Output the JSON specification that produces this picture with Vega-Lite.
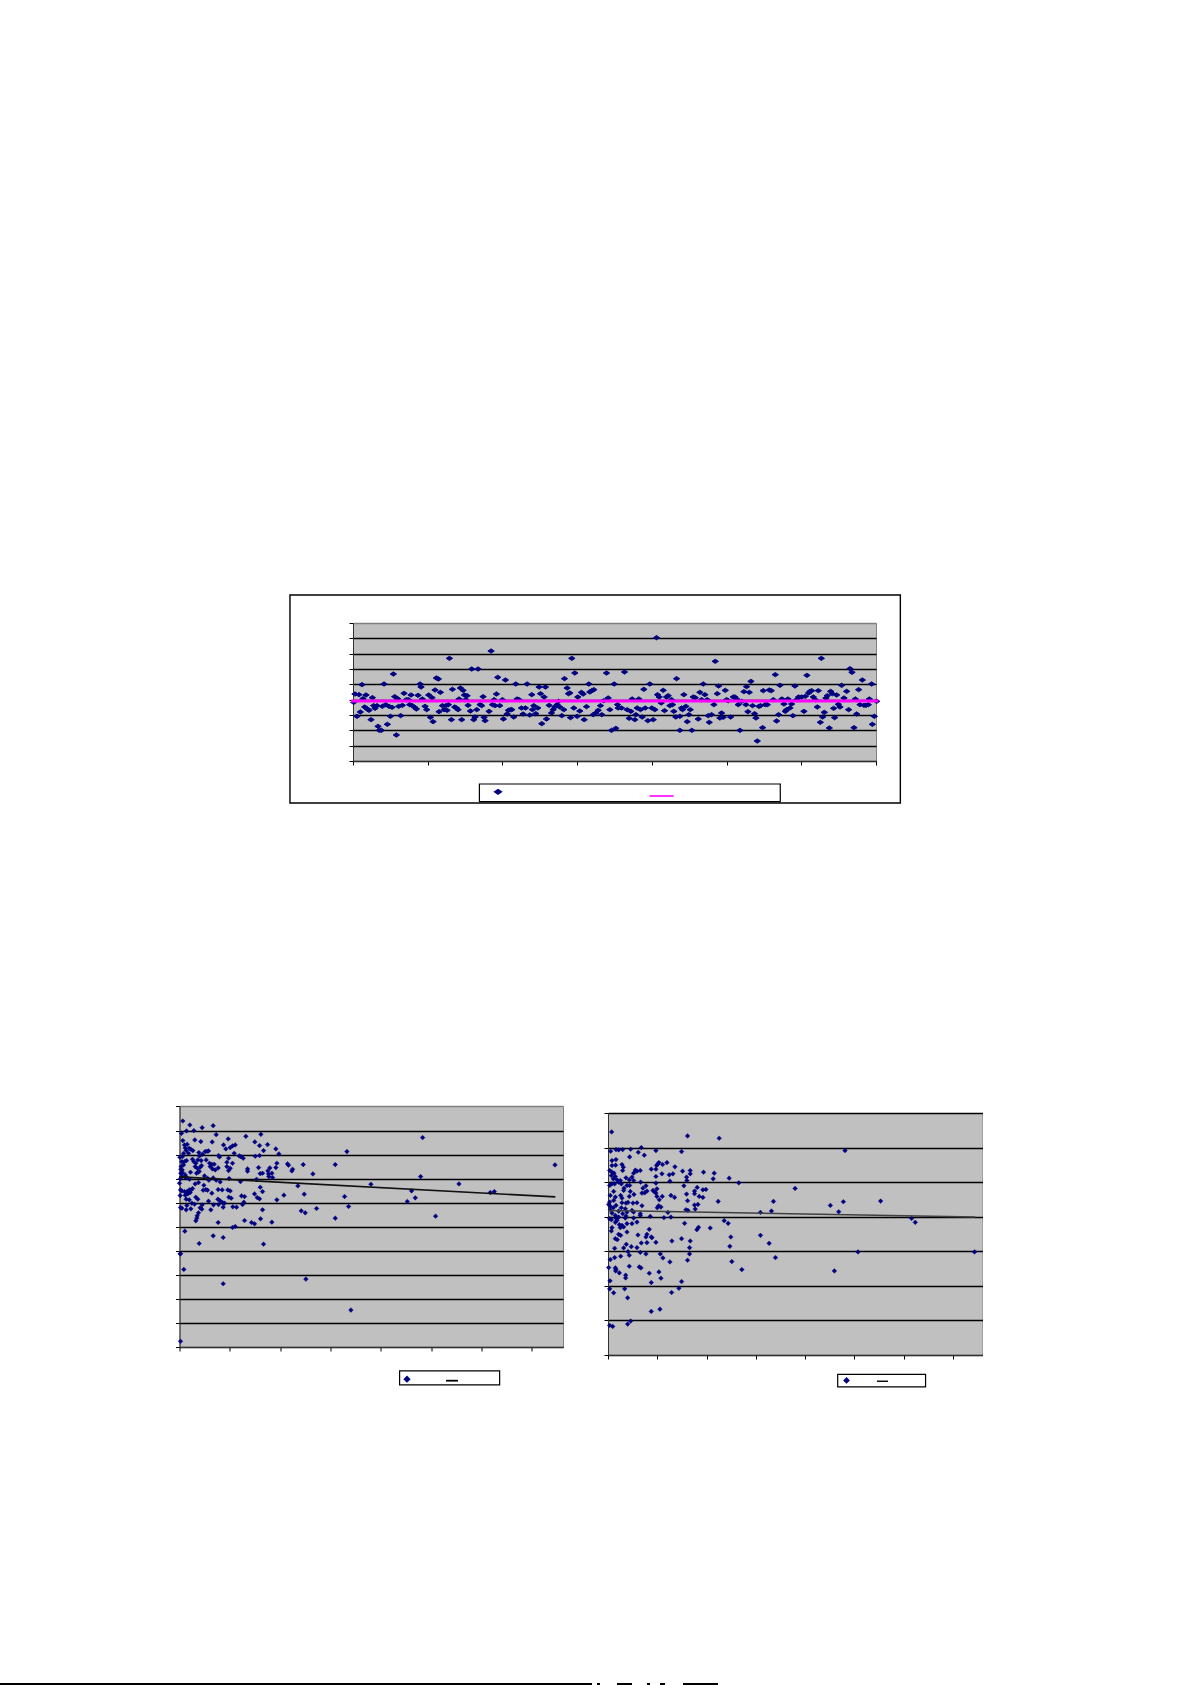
{"$schema":"https://vega.github.io/schema/vega-lite/v6.json","background":"white","padding":{"left":0,"top":593,"right":0,"bottom":0},"config":{"view":{"stroke":null},"axis":{"title":null,"labels":false,"tickColor":"#000000","domainColor":"#303030","tickSize":4,"gridColor":"#000000","gridWidth":1.4,"tickCount":40}},"datasets":{"top":[{"x":2,"y":-8},{"x":6,"y":17},{"x":12,"y":-50},{"x":18,"y":15},{"x":22,"y":-37},{"x":27,"y":45},{"x":30,"y":3},{"x":35,"y":-22},{"x":39,"y":14},{"x":43,"y":-28},{"x":48,"y":-32},{"x":54,"y":-60},{"x":58,"y":6},{"x":62,"y":-18},{"x":66,"y":-26},{"x":72,"y":-18},{"x":75,"y":-80},{"x":79,"y":-92},{"x":85,"y":-92},{"x":88,"y":-20},{"x":93,"y":47},{"x":98,"y":-15},{"x":103,"y":-74},{"x":108,"y":-20},{"x":112,"y":-50},{"x":117,"y":-23},{"x":121,"y":77},{"x":125,"y":9},{"x":130,"y":-106},{"x":134,"y":3},{"x":137,"y":-20},{"x":143,"y":-48},{"x":148,"y":-17},{"x":153,"y":19},{"x":160,"y":0},{"x":166,"y":0},{"x":170,"y":-15},{"x":174,"y":14},{"x":178,"y":-18},{"x":185,"y":-23},{"x":190,"y":-28},{"x":195,"y":13},{"x":201,"y":47},{"x":204,"y":38},{"x":208,"y":2},{"x":216,"y":-20},{"x":221,"y":-30},{"x":227,"y":14},{"x":232,"y":-53},{"x":237,"y":6},{"x":240,"y":-66},{"x":246,"y":29},{"x":250,"y":65},{"x":256,"y":62},{"x":258,"y":-36},{"x":262,"y":22},{"x":268,"y":-18},{"x":273,"y":-30},{"x":278,"y":-18},{"x":282,"y":-32},{"x":286,"y":-15},{"x":289,"y":124},{"x":295,"y":-60},{"x":298,"y":31},{"x":305,"y":-22},{"x":310,"y":-25},{"x":315,"y":-30},{"x":318,"y":2},{"x":322,"y":35},{"x":326,"y":-60},{"x":330,"y":28},{"x":334,"y":14},{"x":338,"y":0},{"x":342,"y":12},{"x":345,"y":-17},{"x":352,"y":-34},{"x":356,"y":92},{"x":362,"y":-60},{"x":366,"y":-52},{"x":371,"y":-30},{"x":375,"y":92},{"x":381,"y":-15},{"x":386,"y":-18},{"x":390,"y":9},{"x":393,"y":-53},{"x":396,"y":-63},{"x":408,"y":-35},{"x":414,"y":146},{"x":418,"y":-15},{"x":423,"y":0},{"x":426,"y":-18},{"x":430,"y":17},{"x":434,"y":67},{"x":440,"y":-18},{"x":448,"y":0},{"x":451,"y":-58},{"x":457,"y":59},{"x":462,"y":-43},{"x":466,"y":-32},{"x":472,"y":-30},{"x":476,"y":-30},{"x":482,"y":-52},{"x":488,"y":47},{"x":492,"y":2},{"x":498,"y":0},{"x":505,"y":-25},{"x":510,"y":-43},{"x":517,"y":-25},{"x":522,"y":47},{"x":530,"y":-46},{"x":536,"y":15},{"x":538,"y":-30},{"x":542,"y":-18},{"x":548,"y":-42},{"x":554,"y":-25},{"x":558,"y":38},{"x":562,"y":18},{"x":566,"y":-72},{"x":573,"y":8},{"x":577,"y":38},{"x":580,"y":-58},{"x":588,"y":-17},{"x":595,"y":-40},{"x":600,"y":-30},{"x":605,"y":-22},{"x":612,"y":-15},{"x":616,"y":-5},{"x":620,"y":-22},{"x":626,"y":-48},{"x":632,"y":-30},{"x":634,"y":63},{"x":642,"y":35},{"x":646,"y":18},{"x":650,"y":20},{"x":652,"y":-54},{"x":656,"y":124},{"x":662,"y":-25},{"x":665,"y":80},{"x":672,"y":-50},{"x":674,"y":8},{"x":680,"y":-34},{"x":685,"y":22},{"x":690,"y":17},{"x":693,"y":-60},{"x":700,"y":-21},{"x":707,"y":47},{"x":710,"y":23},{"x":716,"y":27},{"x":722,"y":30},{"x":720,"y":-45},{"x":728,"y":-40},{"x":735,"y":-32},{"x":742,"y":-18},{"x":746,"y":-45},{"x":752,"y":-3},{"x":760,"y":80},{"x":765,"y":5},{"x":770,"y":-30},{"x":775,"y":-92},{"x":783,"y":47},{"x":788,"y":-86},{"x":793,"y":-15},{"x":795,"y":-25},{"x":805,"y":-25},{"x":814,"y":83},{"x":822,"y":-30},{"x":828,"y":-56},{"x":833,"y":-35},{"x":837,"y":2},{"x":845,"y":-60},{"x":848,"y":-45},{"x":852,"y":-25},{"x":857,"y":2},{"x":862,"y":-30},{"x":867,"y":-52},{"x":872,"y":31},{"x":876,"y":-25},{"x":884,"y":-63},{"x":890,"y":47},{"x":896,"y":-25},{"x":900,"y":-60},{"x":905,"y":-30},{"x":910,"y":186},{"x":913,"y":15},{"x":918,"y":8},{"x":924,"y":-10},{"x":930,"y":28},{"x":934,"y":-33},{"x":940,"y":8},{"x":945,"y":12},{"x":950,"y":-18},{"x":955,"y":0},{"x":958,"y":-15},{"x":962,"y":-35},{"x":968,"y":-52},{"x":970,"y":63},{"x":980,"y":-92},{"x":980,"y":-50},{"x":985,"y":-25},{"x":988,"y":-30},{"x":992,"y":15},{"x":998,"y":-20},{"x":1002,"y":-66},{"x":1007,"y":-45},{"x":1011,"y":-30},{"x":1016,"y":-92},{"x":1020,"y":8},{"x":1026,"y":6},{"x":1035,"y":-58},{"x":1040,"y":22},{"x":1045,"y":0},{"x":1050,"y":47},{"x":1055,"y":15},{"x":1062,"y":0},{"x":1065,"y":-48},{"x":1068,"y":-68},{"x":1075,"y":-45},{"x":1082,"y":-15},{"x":1086,"y":115},{"x":1092,"y":18},{"x":1096,"y":41},{"x":1100,"y":-55},{"x":1105,"y":-40},{"x":1110,"y":-53},{"x":1116,"y":28},{"x":1120,"y":0},{"x":1125,"y":-3},{"x":1132,"y":-52},{"x":1140,"y":8},{"x":1145,"y":8},{"x":1150,"y":2},{"x":1155,"y":-15},{"x":1160,"y":-92},{"x":1165,"y":-5},{"x":1172,"y":24},{"x":1178,"y":-15},{"x":1180,"y":39},{"x":1184,"y":-36},{"x":1188,"y":22},{"x":1193,"y":55},{"x":1198,"y":-18},{"x":1204,"y":-42},{"x":1208,"y":-55},{"x":1212,"y":-124},{"x":1217,"y":-20},{"x":1222,"y":-18},{"x":1228,"y":-84},{"x":1230,"y":27},{"x":1236,"y":-15},{"x":1242,"y":-15},{"x":1248,"y":29},{"x":1254,"y":27},{"x":1260,"y":0},{"x":1266,"y":75},{"x":1270,"y":-64},{"x":1276,"y":-45},{"x":1280,"y":43},{"x":1286,"y":2},{"x":1292,"y":-13},{"x":1296,"y":-35},{"x":1300,"y":-30},{"x":1304,"y":2},{"x":1310,"y":-25},{"x":1315,"y":-13},{"x":1319,"y":-48},{"x":1325,"y":41},{"x":1330,"y":0},{"x":1336,"y":8},{"x":1345,"y":8},{"x":1352,"y":-35},{"x":1356,"y":10},{"x":1361,"y":73},{"x":1366,"y":20},{"x":1370,"y":25},{"x":1375,"y":27},{"x":1380,"y":8},{"x":1386,"y":0},{"x":1392,"y":-22},{"x":1395,"y":27},{"x":1401,"y":-68},{"x":1404,"y":124},{"x":1408,"y":-52},{"x":1413,"y":-38},{"x":1418,"y":5},{"x":1422,"y":12},{"x":1428,"y":-85},{"x":1432,"y":25},{"x":1437,"y":18},{"x":1441,"y":-26},{"x":1444,"y":-54},{"x":1450,"y":14},{"x":1455,"y":-14},{"x":1460,"y":-22},{"x":1465,"y":43},{"x":1472,"y":5},{"x":1480,"y":25},{"x":1486,"y":-30},{"x":1490,"y":93},{"x":1496,"y":82},{"x":1502,"y":-84},{"x":1506,"y":2},{"x":1510,"y":-43},{"x":1516,"y":30},{"x":1520,"y":-15},{"x":1527,"y":59},{"x":1532,"y":-17},{"x":1538,"y":-17},{"x":1545,"y":-15},{"x":1548,"y":2},{"x":1555,"y":47},{"x":1557,"y":-74},{"x":1563,"y":-50},{"x":1570,"y":-5}],"left":[{"x":10,"y":175},{"x":31,"y":163},{"x":68,"y":155},{"x":101,"y":161},{"x":6,"y":138},{"x":21,"y":145},{"x":43,"y":146},{"x":110,"y":134},{"x":199,"y":129},{"x":244,"y":135},{"x":10,"y":116},{"x":46,"y":118},{"x":64,"y":113},{"x":98,"y":112},{"x":146,"y":121},{"x":226,"y":112},{"x":132,"y":103},{"x":240,"y":101},{"x":264,"y":104},{"x":15,"y":103},{"x":23,"y":105},{"x":29,"y":93},{"x":17,"y":94},{"x":34,"y":90},{"x":40,"y":86},{"x":20,"y":86},{"x":139,"y":91},{"x":152,"y":95},{"x":159,"y":100},{"x":167,"y":103},{"x":252,"y":86},{"x":289,"y":91},{"x":58,"y":80},{"x":69,"y":75},{"x":77,"y":83},{"x":83,"y":84},{"x":87,"y":85},{"x":164,"y":78},{"x":298,"y":76},{"x":1,"y":66},{"x":12,"y":77},{"x":9,"y":68},{"x":27,"y":78},{"x":60,"y":70},{"x":117,"y":71},{"x":120,"y":67},{"x":179,"y":70},{"x":184,"y":68},{"x":191,"y":63},{"x":227,"y":69},{"x":240,"y":71},{"x":80,"y":58},{"x":147,"y":63},{"x":7,"y":53},{"x":15,"y":53},{"x":21,"y":56},{"x":39,"y":60},{"x":43,"y":53},{"x":49,"y":48},{"x":55,"y":58},{"x":65,"y":56},{"x":66,"y":41},{"x":90,"y":48},{"x":97,"y":45},{"x":104,"y":45},{"x":142,"y":51},{"x":159,"y":48},{"x":292,"y":48},{"x":324,"y":46},{"x":371,"y":44},{"x":5,"y":38},{"x":12,"y":43},{"x":4,"y":30},{"x":8,"y":28},{"x":47,"y":38},{"x":53,"y":33},{"x":62,"y":36},{"x":59,"y":24},{"x":92,"y":38},{"x":99,"y":31},{"x":107,"y":28},{"x":116,"y":34},{"x":142,"y":38},{"x":152,"y":33},{"x":147,"y":26},{"x":237,"y":35},{"x":271,"y":34},{"x":289,"y":35},{"x":327,"y":42},{"x":339,"y":30},{"x":337,"y":25},{"x":204,"y":31},{"x":204,"y":24},{"x":4,"y":18},{"x":9,"y":20},{"x":17,"y":13},{"x":33,"y":21},{"x":51,"y":18},{"x":56,"y":21},{"x":75,"y":10},{"x":84,"y":3},{"x":88,"y":-3},{"x":101,"y":4},{"x":110,"y":-3},{"x":122,"y":-8},{"x":149,"y":2},{"x":183,"y":-7},{"x":231,"y":0},{"x":242,"y":17},{"x":249,"y":18},{"x":265,"y":25},{"x":267,"y":16},{"x":277,"y":18},{"x":279,"y":5},{"x":268,"y":8},{"x":400,"y":16},{"x":2,"y":1},{"x":7,"y":8},{"x":17,"y":6},{"x":23,"y":4},{"x":30,"y":0},{"x":0,"y":-12},{"x":47,"y":-14},{"x":57,"y":-10},{"x":73,"y":-18},{"x":71,"y":-33},{"x":79,"y":-31},{"x":84,"y":-33},{"x":116,"y":-31},{"x":128,"y":-32},{"x":145,"y":-32},{"x":152,"y":-35},{"x":242,"y":-24},{"x":355,"y":-20},{"x":249,"y":-37},{"x":3,"y":-32},{"x":7,"y":-35},{"x":15,"y":-37},{"x":23,"y":-37},{"x":29,"y":-32},{"x":35,"y":-32},{"x":39,"y":-28},{"x":2,"y":-49},{"x":17,"y":-48},{"x":25,"y":-44},{"x":32,"y":-40},{"x":97,"y":-42},{"x":148,"y":-54},{"x":155,"y":-57},{"x":186,"y":-50},{"x":195,"y":-52},{"x":225,"y":-44},{"x":233,"y":-55},{"x":240,"y":-59},{"x":313,"y":-48},{"x":374,"y":-45},{"x":292,"y":-62},{"x":20,"y":-60},{"x":29,"y":-62},{"x":49,"y":-54},{"x":55,"y":-60},{"x":87,"y":-66},{"x":115,"y":-60},{"x":121,"y":-64},{"x":129,"y":-70},{"x":135,"y":-72},{"x":102,"y":-77},{"x":117,"y":-76},{"x":131,"y":-84},{"x":160,"y":-83},{"x":171,"y":-84},{"x":189,"y":-76},{"x":193,"y":-69},{"x":249,"y":-92},{"x":411,"y":-88},{"x":22,"y":-79},{"x":37,"y":-72},{"x":45,"y":-75},{"x":3,"y":-85},{"x":7,"y":-87},{"x":20,"y":-92},{"x":34,"y":-89},{"x":62,"y":-86},{"x":68,"y":-77},{"x":67,"y":-90},{"x":94,"y":-92},{"x":365,"y":-95},{"x":377,"y":-101},{"x":57,"y":-101},{"x":53,"y":-110},{"x":52,"y":-117},{"x":49,"y":-125},{"x":116,"y":-130},{"x":195,"y":-124},{"x":216,"y":-130},{"x":225,"y":-134},{"x":243,"y":-119},{"x":277,"y":-129},{"x":167,"y":-142},{"x":159,"y":-145},{"x":16,"y":-156},{"x":101,"y":-170},{"x":131,"y":-175},{"x":59,"y":-193},{"x":252,"y":-195},{"x":3,"y":-224},{"x":502,"y":83},{"x":467,"y":44},{"x":729,"y":125},{"x":1126,"y":43},{"x":723,"y":8},{"x":574,"y":-15},{"x":838,"y":-14},{"x":696,"y":-35},{"x":932,"y":-40},{"x":944,"y":-37},{"x":495,"y":-52},{"x":707,"y":-56},{"x":683,"y":-67},{"x":507,"y":-82},{"x":467,"y":-117},{"x":768,"y":-111},{"x":514,"y":-393},{"x":2,"y":-224},{"x":13,"y":-271},{"x":131,"y":-314},{"x":379,"y":-300},{"x":3,"y":-487}],"right":[{"x":11,"y":255},{"x":239,"y":243},{"x":334,"y":236},{"x":100,"y":208},{"x":8,"y":197},{"x":24,"y":202},{"x":32,"y":201},{"x":44,"y":202},{"x":68,"y":203},{"x":91,"y":194},{"x":144,"y":199},{"x":221,"y":196},{"x":109,"y":185},{"x":65,"y":180},{"x":153,"y":163},{"x":177,"y":163},{"x":149,"y":158},{"x":146,"y":154},{"x":12,"y":169},{"x":24,"y":172},{"x":164,"y":157},{"x":201,"y":150},{"x":42,"y":157},{"x":46,"y":149},{"x":12,"y":154},{"x":23,"y":155},{"x":130,"y":143},{"x":144,"y":143},{"x":97,"y":139},{"x":87,"y":137},{"x":82,"y":140},{"x":77,"y":131},{"x":5,"y":139},{"x":12,"y":134},{"x":18,"y":131},{"x":44,"y":139},{"x":224,"y":137},{"x":247,"y":139},{"x":247,"y":129},{"x":287,"y":134},{"x":319,"y":131},{"x":162,"y":129},{"x":184,"y":126},{"x":195,"y":129},{"x":144,"y":121},{"x":22,"y":121},{"x":72,"y":119},{"x":10,"y":124},{"x":16,"y":114},{"x":236,"y":119},{"x":237,"y":109},{"x":316,"y":114},{"x":364,"y":116},{"x":186,"y":107},{"x":393,"y":102},{"x":27,"y":111},{"x":37,"y":109},{"x":54,"y":117},{"x":64,"y":111},{"x":77,"y":109},{"x":98,"y":104},{"x":144,"y":101},{"x":228,"y":93},{"x":268,"y":88},{"x":285,"y":81},{"x":294,"y":82},{"x":5,"y":94},{"x":12,"y":99},{"x":20,"y":99},{"x":32,"y":104},{"x":40,"y":99},{"x":114,"y":93},{"x":105,"y":86},{"x":147,"y":84},{"x":135,"y":79},{"x":140,"y":75},{"x":48,"y":86},{"x":57,"y":94},{"x":65,"y":94},{"x":17,"y":76},{"x":47,"y":79},{"x":67,"y":76},{"x":78,"y":67},{"x":102,"y":71},{"x":110,"y":72},{"x":117,"y":77},{"x":144,"y":71},{"x":260,"y":77},{"x":260,"y":69},{"x":236,"y":68},{"x":189,"y":64},{"x":200,"y":58},{"x":274,"y":61},{"x":285,"y":58},{"x":7,"y":64},{"x":22,"y":59},{"x":38,"y":64},{"x":42,"y":56},{"x":64,"y":61},{"x":147,"y":61},{"x":154,"y":51},{"x":163,"y":61},{"x":239,"y":48},{"x":331,"y":46},{"x":17,"y":49},{"x":5,"y":44},{"x":42,"y":42},{"x":54,"y":41},{"x":60,"y":43},{"x":75,"y":41},{"x":87,"y":42},{"x":102,"y":33},{"x":152,"y":33},{"x":148,"y":27},{"x":159,"y":29},{"x":260,"y":35},{"x":270,"y":37},{"x":2,"y":37},{"x":7,"y":31},{"x":16,"y":27},{"x":24,"y":34},{"x":40,"y":27},{"x":52,"y":24},{"x":262,"y":23},{"x":234,"y":21},{"x":240,"y":19},{"x":180,"y":13},{"x":7,"y":21},{"x":12,"y":11},{"x":57,"y":14},{"x":72,"y":19},{"x":77,"y":14},{"x":32,"y":17},{"x":44,"y":9},{"x":22,"y":4},{"x":54,"y":2},{"x":97,"y":4},{"x":97,"y":9},{"x":127,"y":1},{"x":168,"y":-3},{"x":189,"y":-1},{"x":5,"y":-6},{"x":10,"y":-9},{"x":24,"y":-4},{"x":32,"y":-1},{"x":52,"y":-4},{"x":27,"y":-11},{"x":77,"y":-4},{"x":87,"y":-16},{"x":22,"y":-17},{"x":57,"y":-21},{"x":72,"y":-21},{"x":349,"y":-12},{"x":361,"y":-20},{"x":230,"y":-20},{"x":34,"y":-24},{"x":42,"y":-26},{"x":47,"y":-31},{"x":37,"y":-33},{"x":124,"y":-38},{"x":272,"y":-32},{"x":267,"y":-39},{"x":307,"y":-34},{"x":10,"y":-43},{"x":12,"y":-33},{"x":57,"y":-46},{"x":32,"y":-53},{"x":38,"y":-56},{"x":90,"y":-55},{"x":117,"y":-53},{"x":114,"y":-61},{"x":130,"y":-61},{"x":132,"y":-63},{"x":369,"y":-61},{"x":22,"y":-66},{"x":28,"y":-69},{"x":221,"y":-66},{"x":247,"y":-73},{"x":192,"y":-73},{"x":144,"y":-77},{"x":100,"y":-79},{"x":117,"y":-78},{"x":55,"y":-83},{"x":70,"y":-90},{"x":87,"y":-93},{"x":47,"y":-94},{"x":20,"y":-95},{"x":366,"y":-89},{"x":245,"y":-93},{"x":97,"y":-107},{"x":60,"y":-105},{"x":64,"y":-116},{"x":114,"y":-112},{"x":157,"y":-112},{"x":245,"y":-112},{"x":38,"y":-119},{"x":20,"y":-123},{"x":7,"y":-129},{"x":165,"y":-124},{"x":239,"y":-131},{"x":186,"y":-136},{"x":372,"y":-135},{"x":64,"y":-149},{"x":94,"y":-151},{"x":99,"y":-154},{"x":22,"y":-154},{"x":24,"y":-158},{"x":2,"y":-153},{"x":402,"y":-159},{"x":712,"y":199},{"x":562,"y":85},{"x":819,"y":47},{"x":707,"y":45},{"x":497,"y":46},{"x":668,"y":34},{"x":693,"y":15},{"x":491,"y":17},{"x":458,"y":13},{"x":912,"y":-5},{"x":923,"y":-17},{"x":458,"y":-56},{"x":484,"y":-80},{"x":751,"y":-106},{"x":1101,"y":-106},{"x":503,"y":-123},{"x":680,"y":-163},{"x":124,"y":-170},{"x":153,"y":-166},{"x":6,"y":-193},{"x":53,"y":-176},{"x":53,"y":-184},{"x":159,"y":-185},{"x":130,"y":-198},{"x":221,"y":-195},{"x":213,"y":-215},{"x":5,"y":-217},{"x":50,"y":-217},{"x":17,"y":-229},{"x":191,"y":-228},{"x":59,"y":-244},{"x":130,"y":-285},{"x":156,"y":-278},{"x":68,"y":-314},{"x":59,"y":-323},{"x":5,"y":-327},{"x":14,"y":-330},{"x":34,"y":-169},{"x":23,"y":-163}]},"vconcat":[{"spacing":483,"bounds":"flush","vconcat":[{"hconcat":[{"width":353,"height":1,"data":{"values":[]},"mark":{"type":"rule"},"encoding":{}},{"width":523,"height":138,"view":{"fill":"#c0c0c0","stroke":"#808080"},"layer":[{"data":{"values":[{"a":1}]},"mark":{"type":"rect","fill":null,"stroke":"#000000","strokeWidth":1.4,"clip":false},"encoding":{"x":{"datum":-189,"type":"quantitative","scale":{"domain":[0,1568],"nice":false},"axis":{"grid":false,"values":[0,224,448,672,896,1120,1344,1568]}},"x2":{"datum":1641},"y":{"datum":314,"type":"quantitative","scale":{"domain":[-184,230],"nice":false},"axis":{"grid":true,"gridColor":{"condition":{"test":"datum.value==230","value":"#808080"},"value":"#000000"},"values":[-184,-138,-92,-46,0,46,92,138,184,230]}},"y2":{"datum":-310}}},{"data":{"values":[{"a":1}]},"mark":{"type":"rect","fill":"#ffffff","stroke":"#000000","strokeWidth":1.2,"clip":false},"encoding":{"x":{"datum":379,"type":"quantitative"},"x2":{"datum":1281},"y":{"datum":-253,"type":"quantitative"},"y2":{"datum":-306}}},{"data":{"name":"top"},"mark":{"type":"point","filled":true,"strokeWidth":0.9,"opacity":1,"clip":false},"encoding":{"x":{"field":"x","type":"quantitative"},"y":{"field":"y","type":"quantitative"},"fill":{"datum":"observed","scale":{"domain":["observed","mean"],"range":["#000080","#ff00ff"]},"legend":{"title":null,"orient":"none","legendX":132,"legendY":160,"direction":"horizontal","columns":2,"columnPadding":134.5,"padding":0,"labelExpr":"''","labelOffset":0,"symbolStrokeWidth":1.6}},"stroke":{"datum":"observed","scale":{"domain":["observed","mean"],"range":["#000080","#ff00ff"]}},"shape":{"datum":"observed","scale":{"domain":["observed","mean"],"range":["M-1,0L0,-0.68L1,0L0,0.68Z","stroke"]}},"size":{"datum":"observed","scale":{"domain":["observed","mean"],"range":[42,576]}}}},{"data":{"values":[{"x":-6,"y":-4},{"x":1575,"y":-4}]},"mark":{"type":"line","color":"#ff00ff","strokeWidth":3,"clip":false},"encoding":{"x":{"field":"x","type":"quantitative"},"y":{"field":"y","type":"quantitative"}}}]}],"spacing":0,"bounds":"flush","resolve":{"scale":{"fill":"independent","stroke":"independent","shape":"independent","size":"independent"},"legend":{"fill":"independent","stroke":"independent","shape":"independent","size":"independent"}}},{"spacing":44.5,"bounds":"flush","hconcat":[{"width":135,"height":1,"data":{"values":[]},"mark":{"type":"rule"},"encoding":{}},{"width":383.5,"height":241,"view":{"fill":"#c0c0c0","stroke":"#808080"},"layer":[{"data":{"values":[{"a":1}]},"mark":{"type":"rect","fill":"#ffffff","stroke":"#000000","strokeWidth":1.2,"clip":false},"encoding":{"x":{"datum":660,"type":"quantitative","scale":{"domain":[0,1150],"nice":false},"axis":{"grid":false,"values":[0,151,302,453,604,755,906,1057]}},"x2":{"datum":960},"y":{"datum":-576,"type":"quantitative","scale":{"domain":[-504,220],"nice":false},"axis":{"grid":true,"gridColor":{"condition":{"test":"datum.value==220","value":"#808080"},"value":"#000000"},"values":[-504,-432,-360,-288,-216,-144,-72,0,72,144,220]}},"y2":{"datum":-618}}},{"data":{"name":"left"},"mark":{"type":"point","filled":true,"strokeWidth":0.4,"opacity":1,"clip":false},"encoding":{"x":{"field":"x","type":"quantitative"},"y":{"field":"y","type":"quantitative"},"fill":{"datum":"observed","scale":{"domain":["observed","trend"],"range":["#000080","#000000"]},"legend":{"title":null,"orient":"none","legendX":220.5,"legendY":267.7,"direction":"horizontal","columns":2,"columnPadding":28,"padding":0,"labelExpr":"''","labelOffset":0,"symbolStrokeWidth":1.8}},"stroke":{"datum":"observed","scale":{"domain":["observed","trend"],"range":["#000080","#000000"]}},"shape":{"datum":"observed","scale":{"domain":["observed","trend"],"range":["diamond","stroke"]}},"size":{"datum":"observed","scale":{"domain":["observed","trend"],"range":[22,144]}}}},{"data":{"values":[{"x":0,"y":7},{"x":1127,"y":-53}]},"mark":{"type":"line","color":"#101010","strokeWidth":1.6,"clip":false},"encoding":{"x":{"field":"x","type":"quantitative"},"y":{"field":"y","type":"quantitative"}}}]},{"spacing":6,"bounds":"flush","vconcat":[{"width":1,"height":1,"data":{"values":[]},"mark":{"type":"rule"},"encoding":{}},{"width":374.5,"height":242,"view":{"fill":"#c0c0c0","stroke":"#808080"},"layer":[{"data":{"values":[{"a":1}]},"mark":{"type":"rect","fill":"#ffffff","stroke":"#000000","strokeWidth":1.2,"clip":false},"encoding":{"x":{"datum":690,"type":"quantitative","scale":{"domain":[0,1125],"nice":false},"axis":{"grid":false,"values":[0,148,296,444,592,740,888,1036]}},"x2":{"datum":954},"y":{"datum":-474,"type":"quantitative","scale":{"domain":[-416,312],"nice":false},"axis":{"grid":true,"values":[-416,-312,-208,-104,0,104,208,312]}},"y2":{"datum":-512}}},{"data":{"name":"right"},"mark":{"type":"point","filled":true,"strokeWidth":0.4,"opacity":1,"clip":false},"encoding":{"x":{"field":"x","type":"quantitative"},"y":{"field":"y","type":"quantitative"},"fill":{"datum":"observed","scale":{"domain":["observed","trend"],"range":["#000080","#000000"]},"legend":{"title":null,"orient":"none","legendX":232,"legendY":268.5,"direction":"horizontal","columns":2,"columnPadding":21,"padding":0,"labelExpr":"''","labelOffset":0,"symbolStrokeWidth":1.4}},"stroke":{"datum":"observed","scale":{"domain":["observed","trend"],"range":["#000080","#000000"]}},"shape":{"datum":"observed","scale":{"domain":["observed","trend"],"range":["diamond","stroke"]}},"size":{"datum":"observed","scale":{"domain":["observed","trend"],"range":[22,121]}}}},{"data":{"values":[{"x":0,"y":19},{"x":1103,"y":-1}]},"mark":{"type":"line","color":"#404040","strokeWidth":1.5,"clip":false},"encoding":{"x":{"field":"x","type":"quantitative"},"y":{"field":"y","type":"quantitative"}}}]}]}],"resolve":{"scale":{"fill":"independent","stroke":"independent","shape":"independent","size":"independent"},"legend":{"fill":"independent","stroke":"independent","shape":"independent","size":"independent"}}}],"resolve":{"scale":{"fill":"independent","stroke":"independent","shape":"independent","size":"independent"},"legend":{"fill":"independent","stroke":"independent","shape":"independent","size":"independent"}}},{"width":720,"height":2,"data":{"values":[{"a":0,"b":592},{"a":597,"b":600},{"a":617,"b":632},{"a":647,"b":650},{"a":660,"b":665},{"a":683,"b":718}]},"mark":{"type":"rect","color":"#000000"},"encoding":{"x":{"field":"a","type":"quantitative","scale":{"domain":[0,720],"nice":false},"axis":null},"x2":{"field":"b"}}}],"spacing":1060,"bounds":"flush","resolve":{"scale":{"fill":"independent","stroke":"independent","shape":"independent","size":"independent"},"legend":{"fill":"independent","stroke":"independent","shape":"independent","size":"independent"}}}
